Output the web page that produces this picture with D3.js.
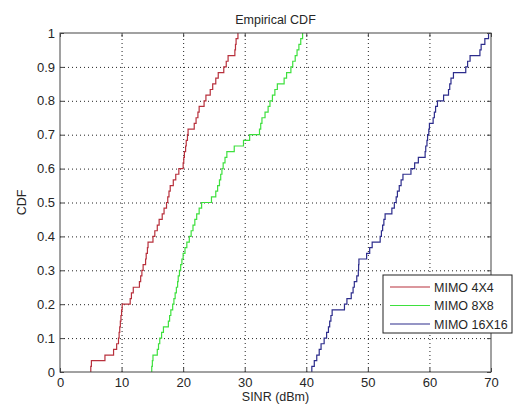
<!DOCTYPE html>
<html>
<head>
<meta charset="utf-8">
<script src="https://cdn.jsdelivr.net/npm/d3@7"></script>
<style>
  body { margin: 0; background: #fff; }
  text { font-family: "Liberation Sans", Arial, sans-serif; fill: #262626; }
</style>
</head>
<body>
<div id="chart"></div>
<script>
// sorted SINR samples (60 per series)
let mimo4 = [5.0, 5.1, 7.3, 8.7, 9.2, 9.5, 9.6, 9.7, 9.8, 9.9, 10.0, 10.1, 11.4, 11.6, 11.9,
  12.9, 13.1, 13.3, 13.5, 13.9, 14.0, 14.2, 14.3, 15.1, 15.4, 15.8, 16.1, 16.6, 16.9, 17.3,
  17.5, 17.7, 17.9, 18.4, 18.8, 19.3, 20.0, 20.1, 20.2, 20.4, 20.5, 20.7, 20.8, 21.8, 22.1,
  22.4, 22.6, 23.4, 23.7, 24.4, 24.8, 25.3, 25.7, 26.6, 27.0, 27.3, 28.4, 28.5, 28.6, 28.9];
let mimo8 = [14.9, 15.0, 15.1, 15.8, 16.0, 16.2, 16.5, 16.8, 17.6, 17.8, 18.0, 18.3, 18.5, 18.7, 18.9,
  19.1, 19.2, 19.4, 19.6, 19.8, 20.0, 20.3, 20.6, 21.0, 21.3, 21.6, 21.9, 22.2, 22.6, 23.0,
  24.6, 25.3, 25.6, 25.9, 26.1, 26.3, 26.5, 26.8, 27.1, 28.3, 29.8, 30.8, 32.4, 32.6, 32.8,
  33.3, 33.8, 34.1, 34.5, 34.9, 35.3, 36.4, 36.8, 37.5, 37.8, 38.2, 38.5, 38.8, 39.1, 39.4];
let mimo16 = [40.9, 41.3, 41.7, 42.1, 42.4, 42.9, 43.3, 43.6, 43.8, 44.0, 44.2, 46.2, 46.6, 47.3, 47.6,
  47.8, 48.2, 48.45, 48.5, 48.55, 49.8, 50.3, 50.7, 52.0, 52.2, 52.4, 52.6, 52.8, 53.9, 54.3,
  54.6, 54.8, 55.1, 55.4, 55.7, 57.0, 57.6, 58.2, 59.3, 59.4, 59.6, 59.7, 59.9, 60.0, 60.6,
  60.8, 61.0, 61.3, 62.3, 63.1, 63.3, 63.5, 63.9, 65.9, 66.2, 66.6, 68.2, 68.4, 69.0, 69.6];

let seriesNames = ['MIMO 4X4', 'MIMO 8X8', 'MIMO 16X16'];
let seriesColors = ['#b8303c', '#3ee03e', '#2c2c8c'];
let xTicks = [0, 10, 20, 30, 40, 50, 60, 70];
let yTicks = [0, 0.1, 0.2, 0.3, 0.4, 0.5, 0.6, 0.7, 0.8, 0.9, 1];

let margin = {top: 33, right: 23, bottom: 33, left: 60};
let width = 514 - margin.left - margin.right;
let height = 405 - margin.top - margin.bottom;

let svg = d3.select('#chart')
    .append('svg')
    .attr('width', 514)
    .attr('height', 405);

let g = svg.append('g').attr('transform', 'translate(' + margin.left + ',' + margin.top + ')');

let x = d3.scaleLinear().domain([0, 70]).range([0, width]);
let y = d3.scaleLinear().domain([0, 1]).range([height, 0]);

//Grid
let xGrid = g.append('g').attr('transform', 'translate(0,' + height + ')')
    .call(d3.axisBottom(x).tickValues(xTicks.slice(1, -1)).tickSize(-height).tickFormat(''));
let yGrid = g.append('g')
    .call(d3.axisLeft(y).tickValues(yTicks.slice(1, -1)).tickSize(-width).tickFormat(''));
[xGrid, yGrid].forEach(function (grid) {
    grid.select('.domain').remove();
    grid.selectAll('line').attr('stroke', '#222').attr('stroke-dasharray', '1,3');
});

//Curves
let line = d3.line()
    .x(function (d) { return x(d[0]); })
    .y(function (d) { return y(d[1]); })
    .curve(d3.curveStepAfter);

[mimo4, mimo8, mimo16].forEach(function (s, i) {
    let n = s.length;
    let pts = [[s[0], 0]].concat(s.map(function (v, k) { return [v, (k + 1) / n]; }));
    g.append('path')
        .attr('d', line(pts))
        .attr('fill', 'none')
        .attr('stroke', seriesColors[i])
        .attr('stroke-width', 1.2);
});

//Axes
let xAxis = g.append('g').attr('transform', 'translate(0,' + height + ')')
    .call(d3.axisBottom(x).tickValues(xTicks).tickSize(-4).tickPadding(6));
let yAxis = g.append('g')
    .call(d3.axisLeft(y).tickValues(yTicks).tickSize(-4).tickPadding(5).tickFormat(function (d) { return +d.toFixed(1); }));
let topAxis = g.append('g')
    .call(d3.axisTop(x).tickValues(xTicks).tickSize(-4).tickFormat(''));
let rightAxis = g.append('g').attr('transform', 'translate(' + width + ',0)')
    .call(d3.axisRight(y).tickValues(yTicks).tickSize(-4).tickFormat(''));
[xAxis, yAxis, topAxis, rightAxis].forEach(function (a) {
    a.select('.domain').remove();
    a.selectAll('line').attr('stroke', '#444');
    a.selectAll('text').attr('font-size', '13px').attr('font-family', null).attr('fill', '#262626');
});

g.append('rect')
    .attr('width', width)
    .attr('height', height)
    .attr('fill', 'none')
    .attr('stroke', '#444')
    .attr('stroke-width', 1);

//Title and labels
svg.append('text')
    .attr('x', margin.left + width / 2)
    .attr('y', 24)
    .attr('text-anchor', 'middle')
    .attr('font-size', '12.5px')
    .text('Empirical CDF');

svg.append('text')
    .attr('x', margin.left + width / 2)
    .attr('y', 401)
    .attr('text-anchor', 'middle')
    .attr('font-size', '12.5px')
    .text('SINR (dBm)');

svg.append('text')
    .attr('transform', 'translate(26,' + (margin.top + height / 2) + ') rotate(-90)')
    .attr('text-anchor', 'middle')
    .attr('font-size', '12.5px')
    .text('CDF');

//Legend
let legend = svg.append('g').attr('transform', 'translate(383,275)');
legend.append('rect')
    .attr('width', 129)
    .attr('height', 58)
    .attr('fill', '#fff')
    .attr('stroke', '#222');

seriesNames.forEach(function (name, i) {
    let ly = 12 + i * 18.5;
    legend.append('line')
        .attr('x1', 7).attr('x2', 47)
        .attr('y1', ly).attr('y2', ly)
        .attr('stroke', seriesColors[i])
        .attr('stroke-width', 1.2);
    legend.append('text')
        .attr('x', 51)
        .attr('y', ly + 4.5)
        .attr('font-size', '12.5px')
        .text(name);
});
</script>
</body>
</html>
